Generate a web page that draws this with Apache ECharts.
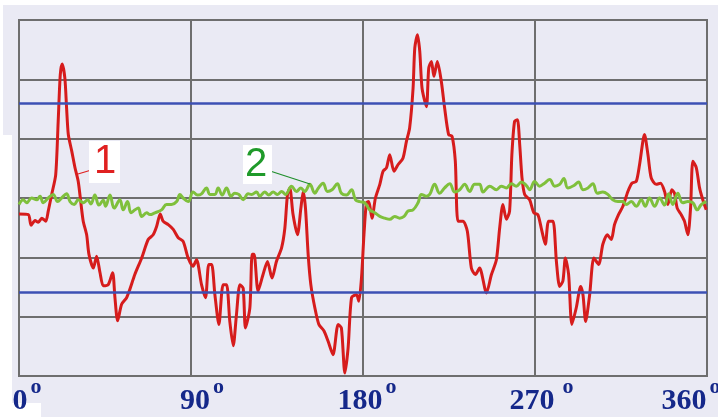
<!DOCTYPE html>
<html>
<head>
<meta charset="utf-8">
<script src="https://cdn.jsdelivr.net/npm/echarts@6/dist/echarts.min.js"></script>
<style>
html,body{margin:0;padding:0;background:#ffffff;}
#chart{width:718px;height:417px;}
</style>
</head>
<body>
<div id="chart"></div>
<script>
// X tick labels (degrees)
const xTicks = [0, 90, 180, 270, 360];

// Curve 1 (red): angle in degrees, value
const redDeg = [0,4.9,6.3,8.4,10.1,11.9,14.0,15.3,17.1,19.2,20.5,21.6,22.6,24.0,24.9,25.8,27.6,29.3,31.0,32.3,33.6,35.4,36.6,38.9,40.6,42.4,44.1,46.7,49.0,50.2,51.6,53.7,56.3,58.0,60.6,64.2,67.6,70.2,72.0,73.9,75.4,78.1,80.7,83.3,85.9,88.5,91.1,92.9,95.5,97.6,99.3,100.8,102.5,104.6,106.8,108.6,110.3,112.1,113.8,115.6,117.3,118.5,120.8,122.0,123.0,125.1,127.7,130.0,132.4,134.7,137.4,139.1,140.5,141.7,143.4,145.7,147.5,148.7,149.9,151.3,152.7,154.8,156.9,159.6,161.7,164.3,167.0,168.7,170.5,172.2,174.0,176.6,177.8,179.2,180.5,181.8,183.0,184.7,186.5,188.8,190.5,192.3,194.0,196.2,198.3,200.9,202.7,204.4,206.2,207.1,208.5,209.7,210.9,213.2,214.4,215.8,217.1,218.9,221.0,222.7,224.8,226.6,228.3,229.7,232.3,234.6,236.7,238.8,241.0,244.6,247.2,249.8,251.5,253.2,255.0,256.7,257.9,259.3,260.8,262.0,263.2,264.6,267.2,269.4,271.5,273.3,275.4,277.1,279.4,281.2,282.9,284.6,285.9,287.6,289.3,291.6,293.9,295.1,296.5,298.6,300.8,303.3,305.5,307.8,309.9,311.6,313.7,316.0,318.6,320.7,323.0,324.7,327.3,329.1,330.8,333.4,335.7,337.8,339.5,341.6,343.0,344.4,346.5,348.2,350.0,351.4,352.6,354.4,356.1,357.8,359.6];
const redVal = [-0.27,-0.28,-0.46,-0.38,-0.41,-0.34,-0.39,-0.22,0.06,0.39,1.29,2.08,2.26,2.02,1.52,1.07,0.79,0.51,0.28,-0.06,-0.39,-0.62,-0.95,-1.18,-0.98,-1.26,-1.48,-1.46,-1.26,-1.68,-2.07,-1.79,-1.68,-1.54,-1.29,-1.01,-0.70,-0.62,-0.48,-0.27,-0.39,-0.45,-0.53,-0.67,-0.73,-1.01,-1.15,-1.04,-1.46,-1.68,-1.12,-1.12,-1.63,-2.13,-1.46,-1.46,-2.08,-2.49,-1.96,-1.46,-1.52,-2.19,-1.85,-0.95,-0.95,-1.57,-1.29,-1.07,-1.35,-1.07,-0.84,-0.51,0.06,0.17,-0.28,-0.62,-0.17,0.11,-0.17,-0.95,-1.46,-1.85,-2.13,-2.24,-2.41,-2.64,-2.13,-2.19,-2.95,-2.53,-1.68,-1.63,-1.74,-1.35,-0.62,-0.08,-0.06,-0.34,0,0.23,0.45,0.51,0.73,0.45,0.56,0.67,0.95,1.18,1.85,2.53,2.75,2.47,1.85,1.54,2.19,2.30,2.05,2.30,1.96,1.52,1.07,1.04,0.62,-0.39,-0.39,-0.56,-1.18,-1.29,-1.18,-1.60,-1.29,-1.04,-0.51,-0.11,-0.36,-0.22,0.73,1.29,1.32,0.90,0.34,0.06,-0.03,-0.25,-0.28,-0.51,-0.78,-0.39,-0.39,-1.07,-1.49,-1.40,-1.01,-1.29,-2.13,-1.85,-1.49,-1.63,-2.08,-1.63,-1.01,-1.12,-0.78,-0.62,-0.70,-0.45,-0.28,-0.14,0.11,0.25,0.28,0.56,1.07,0.73,0.34,0.23,0.25,0.11,-0.11,0.14,0.08,-0.17,-0.28,-0.39,-0.62,-0.17,0.62,0.51,0.17,-0.03,-0.20];

// Curve 2 (green): angle in degrees, value
const greenDeg = [0,2.2,4.0,6.6,9.3,11.0,12.7,15.3,17.9,20.2,22.3,24.9,26.7,28.9,31.0,33.6,35.9,37.6,39.7,41.8,44.1,45.3,47.6,49.8,52.8,54.5,56.8,58.6,60.7,62.4,64.2,66.8,68.5,71.1,74.6,77.2,79.8,82.5,84.2,85.9,88.5,91.1,93.4,95.5,98.1,99.9,102.5,104.2,106.3,108.6,110.9,112.9,115.0,117.3,119.9,121.7,124.3,126.0,128.6,130.7,133.0,135.3,137.4,139.5,142.6,145.2,147.5,149.5,152.2,154.8,156.5,159.1,161.4,163.8,166.6,168.7,171.3,174.0,176.1,178.3,180.9,183.5,186.2,188.8,191.4,194.0,196.6,199.2,201.5,203.6,206.2,208.8,210.6,213.2,214.9,217.5,220.1,222.7,225.4,228.0,230.6,233.2,235.8,238.4,241.0,242.8,246.3,249.8,252.4,255.0,257.6,260.2,262.9,265.5,267.2,269.8,272.4,275.0,277.7,280.3,282.9,285.1,287.2,290.4,292.8,295.1,297.7,300.3,302.6,305.5,308.1,310.7,313.4,316.0,317.8,320.4,323.0,325.6,327.7,329.9,332.6,335.2,337.8,339.9,342.1,344.7,347.3,350.0,352.6,354.9,357.0,359.6];
const greenVal = [-0.11,-0.03,-0.08,0,-0.03,0.03,-0.08,0,0.06,-0.06,0,0.07,-0.06,-0.11,-0.03,-0.08,-0.03,-0.10,0.05,-0.12,-0.04,-0.14,0.05,-0.17,-0.03,-0.20,-0.06,-0.25,-0.20,-0.17,-0.31,-0.25,-0.28,-0.25,-0.20,-0.11,-0.11,-0.06,0.06,0,-0.06,0.10,0.05,0.07,0.17,0.06,0.06,0.17,0.05,0.17,0.03,0.08,0.06,-0.03,0.07,0.06,0.10,0.03,0.10,0.05,0.10,0.06,0.11,0.06,0.20,0.11,0.17,0.11,0.23,0.08,0.16,0.25,0.11,0.14,0.24,0.08,0.05,0.14,-0.03,-0.06,-0.08,-0.20,-0.25,-0.31,-0.34,-0.36,-0.31,-0.34,-0.31,-0.22,-0.20,-0.08,0.06,0.03,0.06,0.23,0.08,0.17,0.24,0.10,0.14,0.23,0.11,0.23,0.23,0.10,0.20,0.14,0.20,0.17,0.24,0.20,0.27,0.21,0.14,0.28,0.20,0.25,0.31,0.20,0.23,0.33,0.17,0.21,0.27,0.14,0.17,0.24,0.08,0.10,0.06,-0.03,-0.06,-0.06,-0.11,-0.06,-0.14,-0.03,-0.14,0,-0.14,0,-0.12,0.07,-0.11,0.08,-0.08,-0.06,-0.08,-0.20,-0.11,-0.06];

// Blue reference levels
const limitLevels = [1.59, -1.59];

const redData = redDeg.map((d, i) => [d, redVal[i]]);
const greenData = greenDeg.map((d, i) => [d, greenVal[i]]);

const padL = [16, 22, 8, 13, 0];
const gapO = [3, 3, 3, 8, 3];
const padR = [0, 0, 0, 0, 32];
const labelColor = '#15288a';
const rich = {};
xTicks.forEach((t, i) => {
  rich['n' + i] = {fontFamily: 'Liberation Serif', fontWeight: 'bold', fontSize: 30, color: labelColor, lineHeight: 40, verticalAlign: 'bottom', padding: [0, 0, 0, padL[i]]};
  rich['s' + i] = {fontFamily: 'Liberation Serif', fontWeight: 'bold', fontSize: 22, color: labelColor, lineHeight: 22, verticalAlign: 'top', padding: [0, padR[i], 0, gapO[i]]};
});

const gridColor = '#6e6e6e';
const chart = echarts.init(document.getElementById('chart'));
chart.setOption({
  animation: false,
  backgroundColor: '#eaeaf4',
  graphic: {
    elements: [
      {type: 'rect', z: -1, shape: {x: 0, y: 0, width: 718, height: 5}, style: {fill: '#ffffff'}},
      {type: 'rect', z: -1, shape: {x: 0, y: 0, width: 3, height: 135}, style: {fill: '#ffffff'}},
      {type: 'rect', z: -1, shape: {x: 0, y: 135, width: 12, height: 282}, style: {fill: '#ffffff'}},
      {type: 'rect', z: -1, shape: {x: 0, y: 403, width: 41, height: 14}, style: {fill: '#ffffff'}},
      {type: 'line', z: 50, shape: {x1: 78, y1: 174, x2: 98, y2: 168}, style: {stroke: '#e02020', lineWidth: 1.2}},
      {type: 'rect', z: 50, shape: {x: 89, y: 141, width: 31, height: 42}, style: {fill: '#ffffff'}},
      {type: 'text', z: 51, x: 105, y: 162, style: {text: '1', font: '40px "Liberation Sans"', fill: '#e02020', align: 'center', verticalAlign: 'middle'}},
      {type: 'line', z: 50, shape: {x1: 267, y1: 170, x2: 310, y2: 184}, style: {stroke: '#1f8f2a', lineWidth: 1.2}},
      {type: 'rect', z: 50, shape: {x: 243, y: 145, width: 29, height: 39}, style: {fill: '#ffffff'}},
      {type: 'text', z: 51, x: 256, y: 165, style: {text: '2', font: '40px "Liberation Sans"', fill: '#1f9a2a', align: 'center', verticalAlign: 'middle'}}
    ]
  },
  grid: {left: 19, right: 11, top: 20, bottom: 41, containLabel: false, outerBoundsMode: 'none', show: true, backgroundColor: '#eaeaf4', borderColor: gridColor, borderWidth: 2},
  xAxis: {
    type: 'value', min: 0, max: 360, interval: 90,
    axisLine: {show: false}, axisTick: {show: false},
    splitLine: {show: true, lineStyle: {color: gridColor, width: 2}},
    axisLabel: {
      margin: 0,
      showMinLabel: true, showMaxLabel: true,
      formatter: function (v) { const i = xTicks.indexOf(v); return '{n' + i + '|' + v + '}{s' + i + '|o}'; },
      rich: rich
    }
  },
  yAxis: {
    type: 'value', min: -3, max: 3, interval: 1,
    axisLine: {show: false}, axisTick: {show: false}, axisLabel: {show: false},
    splitLine: {show: true, lineStyle: {color: gridColor, width: 2}}
  },
  series: [
    {
      type: 'line', data: [], z: 1, silent: true,
      markLine: {
        silent: true, symbol: 'none', label: {show: false},
        lineStyle: {color: '#3c50b4', width: 2.5, type: 'solid'},
        data: limitLevels.map(v => ({yAxis: v}))
      }
    },
    {type: 'line', name: '1', data: redData, z: 3, showSymbol: false, smooth: 0.25, lineStyle: {color: '#d61c1c', width: 3}},
    {type: 'line', name: '2', data: greenData, z: 4, showSymbol: false, smooth: 0.4, lineStyle: {color: '#7fc03c', width: 3}}
  ]
});
</script>
</body>
</html>
